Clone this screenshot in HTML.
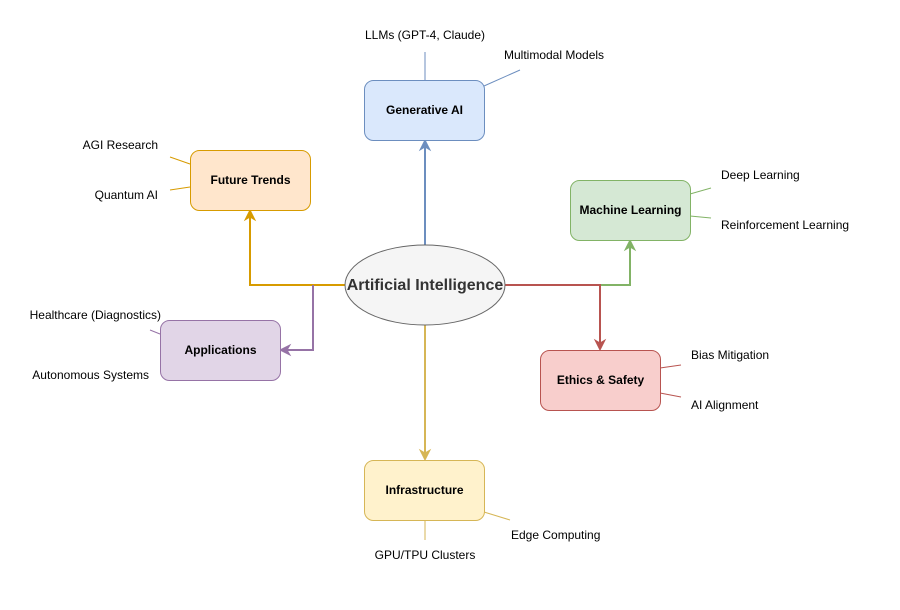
<!DOCTYPE html>
<html><head><meta charset="utf-8"><style>
body{margin:0;background:#fff}
svg{display:block}
text{font-family:"Liberation Sans",Helvetica,Arial,sans-serif;font-size:12px;fill:#000}
.b{font-weight:bold}
</style></head><body>
<svg width="900" height="610" viewBox="0 0 900 610" xmlns="http://www.w3.org/2000/svg">
<defs>
<marker id="m" viewBox="0 0 10 10" refX="9" refY="5" markerWidth="6" markerHeight="6" orient="auto-start-reverse" markerUnits="userSpaceOnUse"><path d="M0,0 L10,5 L0,10 L3,5z" fill="context-stroke"/></marker>
</defs>
<!-- leaf lines -->
<g stroke-width="1" fill="none">
<line x1="425" y1="80" x2="425" y2="52" stroke="#6c8ebf"/>
<line x1="484" y1="86" x2="520" y2="70" stroke="#6c8ebf"/>
<line x1="190" y1="164" x2="170" y2="157" stroke="#d79b00"/>
<line x1="190" y1="187" x2="170" y2="190" stroke="#d79b00"/>
<line x1="690" y1="194" x2="711" y2="188" stroke="#82b366"/>
<line x1="690" y1="216" x2="711" y2="218" stroke="#82b366"/>
<line x1="660" y1="368" x2="681" y2="365" stroke="#b85450"/>
<line x1="660" y1="393" x2="681" y2="397" stroke="#b85450"/>
<line x1="160" y1="334" x2="150" y2="330" stroke="#9673a6"/>
<line x1="425" y1="520" x2="425" y2="540" stroke="#d6b656"/>
<line x1="484" y1="512" x2="510" y2="520" stroke="#d6b656"/>
</g>
<!-- connectors -->
<g stroke-width="2" fill="none">
<path d="M425 245 V142" stroke="#6c8ebf"/>
<path d="M420 150 L425 140 L430 150 L425 147z" fill="#6c8ebf" stroke="#6c8ebf" stroke-width="1"/>
<path d="M345 285 H250 V212" stroke="#d79b00"/>
<path d="M245 220 L250 210 L255 220 L250 217z" fill="#d79b00" stroke="#d79b00" stroke-width="1"/>
<path d="M313 285 V350 H282" stroke="#9673a6"/>
<path d="M290 345 L280 350 L290 355 L287 350z" fill="#9673a6" stroke="#9673a6" stroke-width="1"/>
<path d="M600 285 H630 V242" stroke="#82b366"/>
<path d="M625 250 L630 240 L635 250 L630 247z" fill="#82b366" stroke="#82b366" stroke-width="1"/>
<path d="M505 285 H600 V348" stroke="#b85450"/>
<path d="M595 340 L600 350 L605 340 L600 343z" fill="#b85450" stroke="#b85450" stroke-width="1"/>
<path d="M425 325 V458" stroke="#d6b656"/>
<path d="M420 450 L425 460 L430 450 L425 453z" fill="#d6b656" stroke="#d6b656" stroke-width="1"/>
</g>
<!-- boxes -->
<rect x="364.5" y="80.5" width="120" height="60" rx="9" fill="#dae8fc" stroke="#6c8ebf"/>
<rect x="190.5" y="150.5" width="120" height="60" rx="9" fill="#ffe6cc" stroke="#d79b00"/>
<rect x="570.5" y="180.5" width="120" height="60" rx="9" fill="#d5e8d4" stroke="#82b366"/>
<rect x="540.5" y="350.5" width="120" height="60" rx="9" fill="#f8cecc" stroke="#b85450"/>
<rect x="160.5" y="320.5" width="120" height="60" rx="9" fill="#e1d5e7" stroke="#9673a6"/>
<rect x="364.5" y="460.5" width="120" height="60" rx="9" fill="#fff2cc" stroke="#d6b656"/>
<ellipse cx="425" cy="285" rx="80" ry="40" fill="#f5f5f5" stroke="#666"/>
<text x="425" y="290" text-anchor="middle" class="b" style="font-size:16px;fill:#333">Artificial Intelligence</text>
<g class="b" text-anchor="middle">
<text x="424.5" y="114" class="b">Generative AI</text>
<text x="250.5" y="184" class="b">Future Trends</text>
<text x="630.5" y="214" class="b">Machine Learning</text>
<text x="600.5" y="384" class="b">Ethics &amp; Safety</text>
<text x="220.5" y="354" class="b">Applications</text>
<text x="424.5" y="494" class="b">Infrastructure</text>
</g>
<text x="425" y="39" text-anchor="middle">LLMs (GPT-4, Claude)</text>
<text x="504" y="59">Multimodal Models</text>
<text x="158" y="149" text-anchor="end">AGI Research</text>
<text x="158" y="199" text-anchor="end">Quantum AI</text>
<text x="721" y="179">Deep Learning</text>
<text x="721" y="229">Reinforcement Learning</text>
<text x="691" y="359">Bias Mitigation</text>
<text x="691" y="409">AI Alignment</text>
<text x="161" y="319" text-anchor="end">Healthcare (Diagnostics)</text>
<text x="149" y="379" text-anchor="end">Autonomous Systems</text>
<text x="425" y="559" text-anchor="middle">GPU/TPU Clusters</text>
<text x="511" y="539">Edge Computing</text>
</svg>
</body></html>
